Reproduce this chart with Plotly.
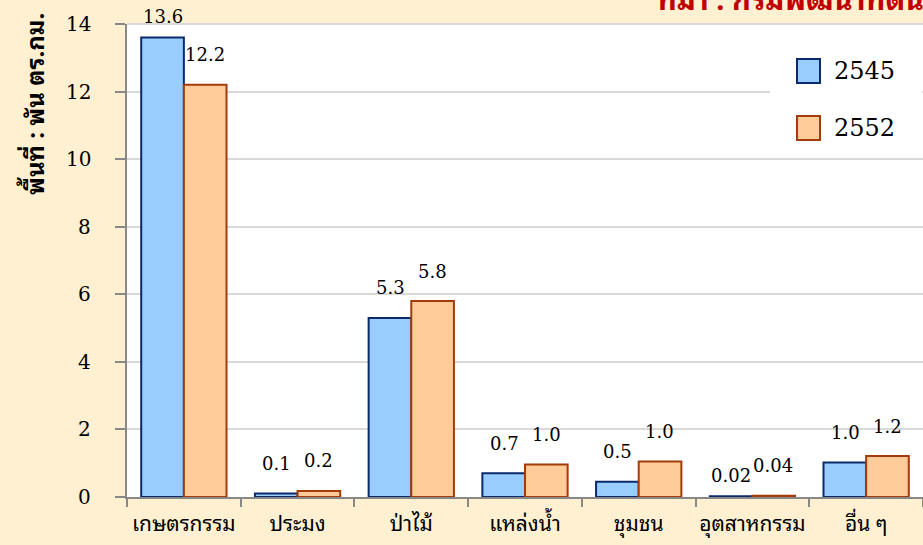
import plotly.graph_objects as go

categories = ["เกษตรกรรม", "ประมง", "ป่าไม้", "แหล่งน้ำ", "ชุมชน", "อุตสาหกรรม", "อื่น ๆ"]
values_2545 = [13.6, 0.1, 5.3, 0.7, 0.45, 0.02, 1.02]
values_2552 = [12.2, 0.18, 5.8, 0.96, 1.05, 0.04, 1.21]
labels_2545 = ["13.6", "0.1", "5.3", "0.7", "0.5", "0.02", "1.0"]
labels_2552 = ["12.2", "0.2", "5.8", "1.0", "1.0", "0.04", "1.2"]
series_names = ["2545", "2552"]
y_ticks = [0, 2, 4, 6, 8, 10, 12, 14]

SERIF = "DejaVu Serif, Liberation Serif, serif"
THAI = ("Noto Sans Thai Looped, Noto Serif Thai, Tahoma, Loma, Garuda, Norasi, Kinnari, "
        "Tlwg Typo, Noto Sans Thai, Noto Sans, DejaVu Sans, sans-serif")

W, H = 923, 545
L, R, T, B = 127, 0, 24, 48
pw, ph = W - L - R, H - T - B

def px_x(x):
    return (x - L) / pw

def px_y(y):
    return (H - B - y) / ph

colors = ["#99CCFF", "#FFCC99"]
edges = ["#0A2A6B", "#A33B0A"]

fig = go.Figure()
for name, vals, col, edge in zip(series_names, [values_2545, values_2552], colors, edges):
    fig.add_trace(go.Bar(
        x=categories, y=vals, name=name, showlegend=False,
        marker=dict(color=col, line=dict(color=edge, width=2)),
    ))

anns = []
for i, c in enumerate(categories):
    for vals, labs, sh in ((values_2545, labels_2545, -21), (values_2552, labels_2552, 21)):
        ys = 30
        if labs[i] in ("13.6", "0.02"):
            ys = 21
        anns.append(dict(x=c, y=vals[i], xref="x", yref="y", text=labs[i], showarrow=False,
                         xshift=sh, yshift=ys, yanchor="middle",
                         font=dict(family=SERIF, size=18, color="black")))

# y tick labels, set further from the axis as in the original
for v in y_ticks:
    anns.append(dict(xref="paper", yref="y", x=px_x(93), y=v, text=str(v), showarrow=False,
                     xanchor="right", yanchor="middle",
                     font=dict(family=SERIF, size=20, color="black")))

anns.append(dict(xref="paper", yref="paper", x=px_x(33), y=px_y(104), text="<b>พื้นที่ : พัน ตร.กม.</b>",
                 textangle=-90, showarrow=False, xanchor="center", yanchor="middle",
                 font=dict(family=THAI, size=24, color="black")))
anns.append(dict(xref="paper", yref="paper", x=px_x(655), y=px_y(22), text="<b>ที่มา : กรมพัฒนาที่ดิน</b>",
                 showarrow=False, xanchor="left", yanchor="bottom",
                 font=dict(family=THAI, size=29, color="#C00000")))

shapes = [
    dict(type="rect", xref="paper", yref="paper", x0=px_x(770), x1=px_x(922), y0=px_y(155), y1=1,
         fillcolor="white", line=dict(width=0), layer="above"),
    dict(type="line", xref="paper", yref="paper", x0=0, x1=1, y0=1, y1=1,
         line=dict(color="#D9D9D9", width=2)),
]

# manual legend (larger swatches like the original)
leg_y = [71, 128]
for name, col, edge, yy in zip(series_names, colors, edges, leg_y):
    shapes.append(dict(type="rect", xref="paper", yref="paper",
                       x0=px_x(797), x1=px_x(820), y0=px_y(yy + 12), y1=px_y(yy - 12),
                       fillcolor=col, line=dict(color=edge, width=2), layer="above"))
    anns.append(dict(xref="paper", yref="paper", x=px_x(832), y=px_y(yy), text=name,
                     showarrow=False, xanchor="left", yanchor="middle",
                     font=dict(family=SERIF, size=24, color="black")))

fig.update_layout(
    width=W, height=H,
    margin=dict(l=L, r=R, t=T, b=B),
    paper_bgcolor="#FFF0D2",
    plot_bgcolor="white",
    barmode="group", bargap=0.25, bargroupgap=0,
    annotations=anns, shapes=shapes,
    showlegend=False,
    font=dict(family=SERIF, color="black"),
)
fig.update_yaxes(range=[0, 14], tickvals=y_ticks, showticklabels=False,
                 showgrid=True, gridcolor="#D9D9D9", gridwidth=1.5,
                 showline=True, linecolor="#888888", linewidth=2, ticks="outside", ticklen=10,
                 tickcolor="#888888", tickwidth=2,
                 zeroline=False, automargin=False)
fig.update_xaxes(showline=True, linecolor="#888888", linewidth=2, ticks="outside", ticklen=8,
                 tickcolor="#888888", tickwidth=2, tickson="boundaries", tickangle=0,
                 tickfont=dict(family=THAI, size=21, color="black"), ticklabelstandoff=7,
                 automargin=False)

fig.write_html("out.html", config={"displayModeBar": False},
               post_script="document.body.style.margin='0px';")
